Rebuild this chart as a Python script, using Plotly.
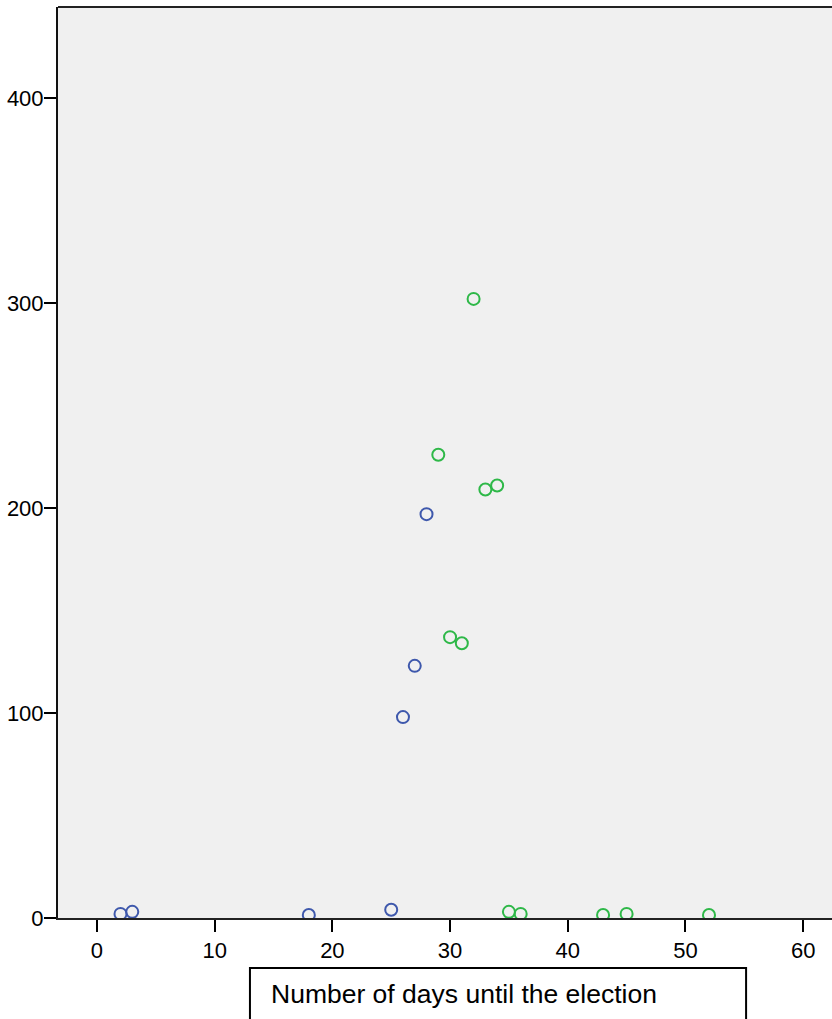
import plotly.graph_objects as go

# Days until the election vs. value, split into two groups
blue_days = [2, 3, 18, 25, 26, 27, 28]
blue_vals = [2, 3, 1.5, 4, 98, 123, 197]

green_days = [29, 30, 31, 32, 33, 34, 35, 36, 43, 45, 52]
green_vals = [226, 137, 134, 302, 209, 211, 3, 2, 1.5, 2, 1.5]

x_ticks = [0, 10, 20, 30, 40, 50, 60]
y_ticks = [0, 100, 200, 300, 400]
x_title = "Number of days until the election"

BLUE = "#3e58ac"
GREEN = "#2eb848"

fig = go.Figure()
for xs, ys, col in [(blue_days, blue_vals, BLUE), (green_days, green_vals, GREEN)]:
    fig.add_trace(go.Scatter(
        x=xs, y=ys, mode="markers",
        marker=dict(symbol="circle-open", size=12, color=col, line=dict(width=2, color=col)),
        showlegend=False, hoverinfo="skip",
    ))

tick_font = dict(family="Liberation Sans Narrow, Arial Narrow, Liberation Sans, Arial", size=22, color="#000")

fig.update_layout(
    width=832, height=1019,
    margin=dict(l=58, r=0, t=7, b=101),
    paper_bgcolor="white",
    plot_bgcolor="#f0f0f0",
    xaxis=dict(
        range=[-3.31, 62.45], tickvals=x_ticks, ticks="outside", ticklen=12, tickwidth=2,
        tickcolor="#000", showline=True, linecolor="#222", linewidth=2,
        showgrid=False, zeroline=False, tickfont=tick_font,
    ),
    yaxis=dict(
        range=[0, 444.4], tickvals=y_ticks, ticks="outside", ticklen=12, tickwidth=2,
        tickcolor="#000", showline=True, linecolor="#111", linewidth=2,
        showgrid=False, zeroline=False, tickfont=tick_font, ticklabelstandoff=-4,
    ),
    shapes=[
        # top frame line
        dict(type="line", xref="paper", yref="paper", x0=0, x1=1, y0=1, y1=1,
             line=dict(color="#222", width=2)),
        # box around the axis title
        dict(type="rect", xref="paper", yref="paper", x0=0.248, x1=0.889, y0=-0.0549, y1=-0.3,
             line=dict(color="#000", width=2), fillcolor="rgba(0,0,0,0)"),
    ],
    annotations=[
        dict(text=x_title, xref="paper", yref="paper", x=0.2725, y=-0.0834,
             xanchor="left", yanchor="middle", showarrow=False,
             font=dict(family="Liberation Sans, Arial", size=26.5, color="#000")),
    ],
)

fig.write_html("out.html")
